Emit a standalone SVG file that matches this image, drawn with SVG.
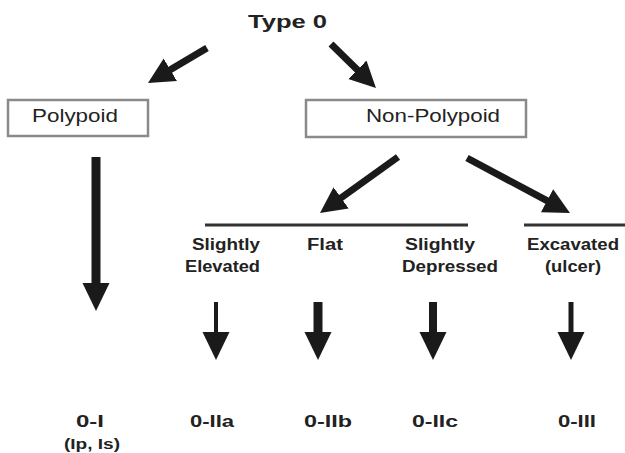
<svg xmlns="http://www.w3.org/2000/svg" width="625" height="453" viewBox="0 0 625 453">
  <style>
    .lbl { font-family: "Liberation Sans", Arial, sans-serif; font-weight: bold; fill: #222; }
    .box { fill: #fff; stroke: #8a8a8a; stroke-width: 2.5; }
    .boxtxt { font-family: "Liberation Sans", Arial, sans-serif; font-size: 18px; fill: #222; }
    .arrow { stroke: #1a1a1a; fill: none; stroke-linecap: butt; }
    .rule { stroke: #333; stroke-width: 3; }
  </style>
  <defs>
    <marker id="headDiag" markerUnits="userSpaceOnUse" markerWidth="28" markerHeight="28" refX="2" refY="13" orient="auto">
      <path d="M0,0 L26,13 L0,26 z" fill="#1a1a1a"/>
    </marker>
    <marker id="headDown" markerUnits="userSpaceOnUse" markerWidth="30" markerHeight="30" refX="2" refY="13.5" orient="auto">
      <path d="M0,0 L28,13.5 L0,27 z" fill="#1a1a1a"/>
    </marker>
  </defs>

  <rect width="625" height="453" fill="#fff"/>

  <g id="type0">
    <text class="lbl" x="248" y="28" font-size="18" textLength="79" lengthAdjust="spacingAndGlyphs">Type 0</text>
  </g>

  <g id="polypoid">
    <rect class="box" x="8" y="100" width="140" height="36"/>
    <text class="boxtxt" x="32" y="122" textLength="86" lengthAdjust="spacingAndGlyphs">Polypoid</text>
  </g>

  <g id="non-polypoid">
    <rect class="box" x="306" y="100" width="220" height="37"/>
    <text class="boxtxt" x="366" y="122" textLength="134" lengthAdjust="spacingAndGlyphs">Non-Polypoid</text>
  </g>

  <g id="slightly-elevated">
    <text class="lbl" font-size="16" x="192" y="250" textLength="68" lengthAdjust="spacingAndGlyphs">Slightly</text>
    <text class="lbl" font-size="16" x="185" y="272" textLength="75" lengthAdjust="spacingAndGlyphs">Elevated</text>
  </g>

  <g id="flat">
    <text class="lbl" font-size="16" x="307" y="250" textLength="36" lengthAdjust="spacingAndGlyphs">Flat</text>
  </g>

  <g id="slightly-depressed">
    <text class="lbl" font-size="16" x="405" y="250" textLength="70" lengthAdjust="spacingAndGlyphs">Slightly</text>
    <text class="lbl" font-size="16" x="402" y="272" textLength="96" lengthAdjust="spacingAndGlyphs">Depressed</text>
  </g>

  <g id="excavated">
    <text class="lbl" font-size="16" x="527" y="250" textLength="92" lengthAdjust="spacingAndGlyphs">Excavated</text>
    <text class="lbl" font-size="16" x="545" y="272" textLength="56" lengthAdjust="spacingAndGlyphs">(ulcer)</text>
  </g>

  <g id="type-0-I">
    <text class="lbl" font-size="16" x="76" y="427" textLength="28" lengthAdjust="spacingAndGlyphs">0-I</text>
    <text class="lbl" font-size="14" x="64" y="449" textLength="56" lengthAdjust="spacingAndGlyphs">(Ip, Is)</text>
  </g>
  <g id="type-0-IIa">
    <text class="lbl" font-size="16" x="190" y="427" textLength="44" lengthAdjust="spacingAndGlyphs">0-IIa</text>
  </g>
  <g id="type-0-IIb">
    <text class="lbl" font-size="16" x="304" y="427" textLength="48" lengthAdjust="spacingAndGlyphs">0-IIb</text>
  </g>
  <g id="type-0-IIc">
    <text class="lbl" font-size="16" x="412" y="427" textLength="46" lengthAdjust="spacingAndGlyphs">0-IIc</text>
  </g>
  <g id="type-0-III">
    <text class="lbl" font-size="16" x="558" y="427" textLength="38" lengthAdjust="spacingAndGlyphs">0-III</text>
  </g>

  <g id="connectors">
    <!-- split bars under the non-polypoid branches -->
    <line class="rule" x1="205" y1="225" x2="468" y2="225"/>
    <line class="rule" x1="524" y1="225" x2="625" y2="225"/>

    <!-- Type 0 to the two classes -->
    <line class="arrow" stroke-width="7" x1="207" y1="48" x2="168.6" y2="70.8" marker-end="url(#headDiag)"/>
    <line class="arrow" stroke-width="7" x1="331" y1="44" x2="358.8" y2="71.2" marker-end="url(#headDiag)"/>

    <!-- Non-polypoid to its sub-groups -->
    <line class="arrow" stroke-width="7" x1="398" y1="157" x2="339.5" y2="199" marker-end="url(#headDiag)"/>
    <line class="arrow" stroke-width="7" x1="467" y1="158" x2="548.8" y2="201.7" marker-end="url(#headDiag)"/>

    <!-- down to the Paris sub-types -->
    <line class="arrow" stroke-width="9" x1="96" y1="157" x2="96" y2="285" marker-end="url(#headDown)"/>
    <line class="arrow" stroke-width="4" x1="216" y1="302" x2="216" y2="334" marker-end="url(#headDown)"/>
    <line class="arrow" stroke-width="9" x1="318" y1="302" x2="318" y2="334" marker-end="url(#headDown)"/>
    <line class="arrow" stroke-width="8" x1="433" y1="302" x2="433" y2="334" marker-end="url(#headDown)"/>
    <line class="arrow" stroke-width="5" x1="571" y1="302" x2="571" y2="334" marker-end="url(#headDown)"/>
  </g>
</svg>
